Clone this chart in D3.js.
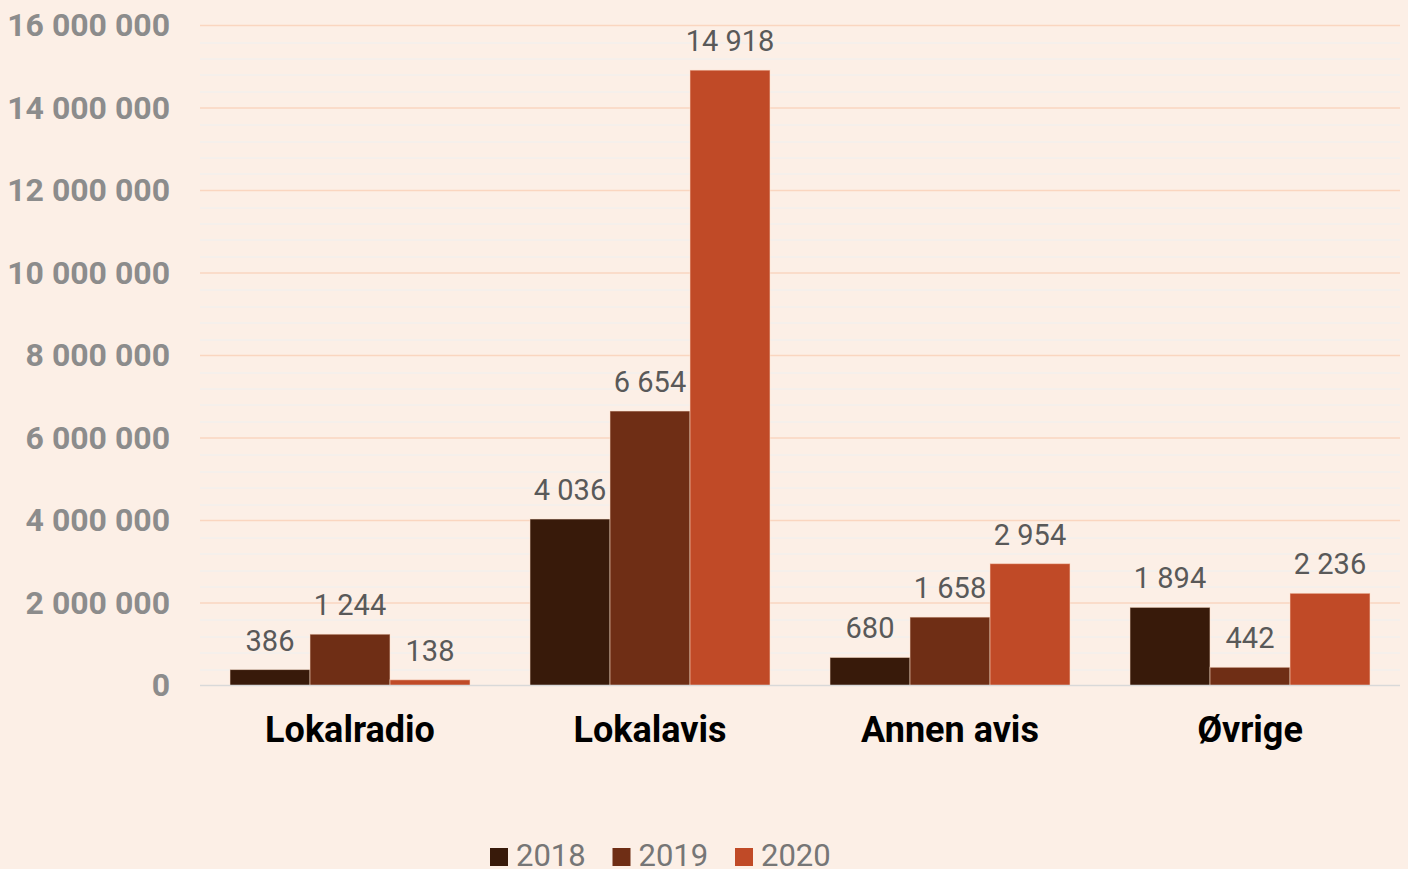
<!DOCTYPE html>
<html>
<head>
<meta charset="utf-8">
<script src="https://cdn.jsdelivr.net/npm/d3@7"></script>
<style>
    html, body {
        margin: 0;
        padding: 0;
        background: #fcefe6;
        overflow: hidden;
    }
    svg {
        display: block;
        font-family: Roboto, "Noto Sans", sans-serif;
    }
</style>
</head>
<body>
<div id="chart"></div>
<script>
// Verdier i tusen kroner
const categories = ['Lokalradio', 'Lokalavis', 'Annen avis', 'Øvrige'];
const years = ['2018', '2019', '2020'];
const values2018 = [386, 4036, 680, 1894];
const values2019 = [1244, 6654, 1658, 442];
const values2020 = [138, 14918, 2954, 2236];
const yTicks = [0, 2000, 4000, 6000, 8000, 10000, 12000, 14000, 16000];
const colors = ['#381a0a', '#6f2e15', '#c04a27'];

const series = [values2018, values2019, values2020];

const width = 1408;
const height = 869;
const margin = {top: 25.5, right: 8, bottom: 183.5, left: 200};
const plotW = 1200;
const plotH = height - margin.top - margin.bottom;

const locale = d3.formatLocale({decimal: ',', thousands: '\u00a0', grouping: [3], currency: ['', ' kr']});
const fmt = locale.format(',d');

const svg = d3.select('#chart')
    .append('svg')
    .attr('width', width)
    .attr('height', height);

svg.append('rect')
    .attr('width', width)
    .attr('height', height)
    .attr('fill', '#fcefe6');

const g = svg.append('g')
    .attr('transform', `translate(${margin.left},${margin.top})`);

// Skalaer
const x0 = d3.scaleBand()
    .domain(categories)
    .range([0, plotW])
    .paddingInner(0.2)
    .paddingOuter(0.1);

const x1 = d3.scaleBand()
    .domain(years)
    .range([0, x0.bandwidth()]);

const y = d3.scaleLinear()
    .domain([0, 16000])
    .range([plotH, 0]);

// Hjelpelinjer (små)
const minorTicks = d3.range(0, 16001, 400).filter(v => v % 2000 !== 0);
g.selectAll('.minor')
    .data(minorTicks)
    .enter()
    .append('line')
    .attr('x1', 0)
    .attr('x2', plotW)
    .attr('y1', d => Math.round(y(d)) + 0.5)
    .attr('y2', d => Math.round(y(d)) + 0.5)
    .attr('stroke', '#eef0f0')
    .attr('stroke-width', 1);

// Hjelpelinjer (store)
g.selectAll('.major')
    .data(yTicks.filter(v => v > 0))
    .enter()
    .append('line')
    .attr('x1', 0)
    .attr('x2', plotW)
    .attr('y1', d => y(d))
    .attr('y2', d => y(d))
    .attr('stroke', '#fad6c0')
    .attr('stroke-width', 1.5);

// Y-akse
const yAxis = g.append('g')
    .call(d3.axisLeft(y).tickValues(yTicks).tickSize(0).tickPadding(30).tickFormat(d => fmt(d * 1000)));
yAxis.select('.domain').remove();
yAxis.selectAll('text')
    .attr('fill', '#8c8c8c')
    .style('font-size', '32px')
    .style('font-weight', 'bold')
    .style('font-family', 'Roboto, sans-serif');

// Søyler
const groups = g.selectAll('.group')
    .data(categories)
    .enter()
    .append('g')
    .attr('transform', d => `translate(${x0(d)},0)`);

groups.selectAll('rect')
    .data((d, i) => years.map((yr, j) => ({year: yr, value: series[j][i], color: colors[j]})))
    .enter()
    .append('rect')
    .attr('x', d => x1(d.year))
    .attr('y', d => y(d.value))
    .attr('width', x1.bandwidth())
    .attr('height', d => plotH - y(d.value))
    .attr('fill', d => d.color)
    .attr('stroke', 'rgba(255,225,205,0.55)')
    .attr('stroke-width', 1);

groups.selectAll('.label')
    .data((d, i) => years.map((yr, j) => ({year: yr, value: series[j][i]})))
    .enter()
    .append('text')
    .attr('class', 'label')
    .attr('x', d => x1(d.year) + x1.bandwidth() / 2)
    .attr('y', d => y(d.value) - 19)
    .attr('text-anchor', 'middle')
    .attr('fill', '#595959')
    .style('font-size', '29px')
    .text(d => fmt(d.value));

// Grunnlinje
g.append('line')
    .attr('x1', 0)
    .attr('x2', plotW)
    .attr('y1', plotH)
    .attr('y2', plotH)
    .attr('stroke', '#d9d9d9')
    .attr('stroke-width', 1.5);

// Kategorinavn
g.selectAll('.cat')
    .data(categories)
    .enter()
    .append('text')
    .attr('x', d => x0(d) + x0.bandwidth() / 2)
    .attr('y', plotH + 56.5)
    .attr('text-anchor', 'middle')
    .attr('fill', '#000')
    .style('font-size', '36px')
    .style('font-weight', 'bold')
    .text(d => d);

// Forklaring
const legend = svg.append('g')
    .attr('transform', 'translate(490,848)');

const items = legend.selectAll('.item')
    .data(years)
    .enter()
    .append('g')
    .attr('transform', (d, i) => `translate(${i * 122.5},0)`);

items.append('rect')
    .attr('width', 18)
    .attr('height', 18)
    .attr('fill', (d, i) => colors[i]);

items.append('text')
    .attr('x', 26)
    .attr('y', 18)
    .attr('fill', '#767676')
    .style('font-size', '31px')
    .text(d => d);
</script>
</body>
</html>
